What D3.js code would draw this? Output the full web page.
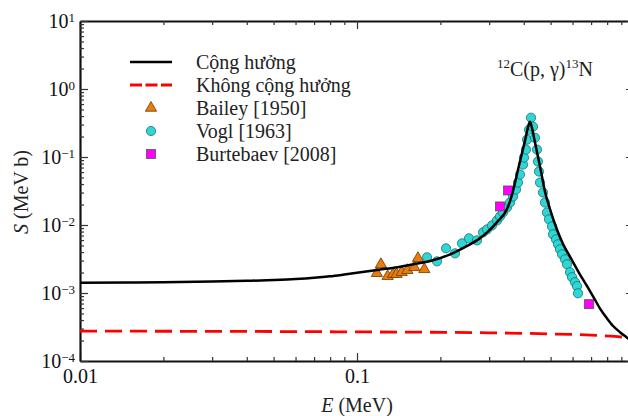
<!DOCTYPE html>
<html>
<head>
<meta charset="utf-8">
<script src="https://cdn.jsdelivr.net/npm/d3@7"></script>
<style>
body { margin: 0; background: #fff; }
svg { display: block; font-family: "Liberation Serif", "Times New Roman", serif; }
</style>
</head>
<body>
<div id="chart"></div>
<script>
// resonant S-factor (black line)
const resE = [0.01, 0.015, 0.02, 0.03, 0.04, 0.05, 0.06, 0.07, 0.08, 0.09, 0.1, 0.12, 0.14, 0.16, 0.188, 0.217,
    0.248, 0.275, 0.295, 0.322, 0.348, 0.362, 0.372, 0.385, 0.395, 0.405, 0.414, 0.421, 0.428, 0.437, 0.447,
    0.46, 0.477, 0.5, 0.527, 0.555, 0.588, 0.63, 0.677, 0.72, 0.754, 0.8, 0.839, 0.89, 0.944, 1.0];
const resS = [1.42e-3, 1.43e-3, 1.44e-3, 1.47e-3, 1.51e-3, 1.55e-3, 1.60e-3, 1.67e-3, 1.76e-3, 1.87e-3, 1.98e-3, 2.2e-3, 2.4e-3, 2.65e-3, 3.03e-3, 3.7e-3,
    4.85e-3, 6.2e-3, 7.8e-3, 0.0113, 0.0172, 0.027, 0.042, 0.077, 0.118, 0.18, 0.27, 0.33, 0.27, 0.18, 0.115,
    0.066, 0.031, 0.016, 8.6e-3, 5.2e-3, 3.4e-3, 2.05e-3, 1.26e-3, 8.2e-4, 5.9e-4, 4.2e-4, 3.3e-4, 2.65e-4, 2.2e-4, 1.85e-4];

// non-resonant part (red dashed)
const nonresE = [0.01, 0.1, 0.3, 0.5, 0.7, 0.85, 1.0];
const nonresS = [2.75e-4, 2.68e-4, 2.6e-4, 2.5e-4, 2.4e-4, 2.3e-4, 2.15e-4];

// Bailey [1950]
const baileyE = [0.118, 0.122, 0.129, 0.135, 0.139, 0.145, 0.152, 0.161, 0.166, 0.175];
const baileyS = [1.95e-3, 2.64e-3, 1.76e-3, 1.89e-3, 1.89e-3, 2.02e-3, 2.16e-3, 2.39e-3, 3.24e-3, 2.23e-3];

// Vogl [1963]
const voglE = [0.179, 0.1945, 0.2096, 0.2259, 0.2394, 0.2537, 0.2711, 0.2851, 0.2947, 0.3072, 0.3202, 0.3283,
    0.3366, 0.348, 0.3567, 0.3658, 0.375, 0.3813, 0.3877, 0.3975, 0.4008, 0.4075, 0.4109, 0.4178, 0.4248,
    0.4318, 0.439, 0.4464, 0.4501, 0.4539, 0.4577, 0.4693, 0.4771, 0.4851, 0.4933, 0.5058, 0.51, 0.5228,
    0.5316, 0.5406, 0.5497, 0.5636, 0.5731, 0.5875, 0.5974, 0.6124, 0.6226, 0.6278];
const voglS = [3.35e-3, 2.92e-3, 4.54e-3, 3.83e-3, 5.37e-3, 6.36e-3, 5.94e-3, 7.79e-3, 8.61e-3, 9.87e-3, 0.01167, 0.01337,
    0.01531, 0.0181, 0.0214, 0.0262, 0.0333, 0.0421, 0.0552, 0.0774, 0.098, 0.1285, 0.18, 0.252, 0.378,
    0.279, 0.192, 0.1285, 0.0857, 0.0611, 0.0421, 0.0301, 0.0214, 0.01531, 0.0121, 9.53e-3, 7.28e-3, 6.15e-3,
    5.2e-3, 4.39e-3, 3.71e-3, 3.13e-3, 2.64e-3, 2.02e-3, 1.71e-3, 1.44e-3, 1.26e-3, 9.9e-4];

// Burtebaev [2008]
const burtE = [0.328, 0.351, 0.688];
const burtS = [0.01875, 0.0322, 6.85e-4];

const xTickValues = [0.01, 0.1];
const xTickLabels = ["0.01", "0.1"];
const yTickExponents = [-4, -3, -2, -1, 0, 1];
const legendLabels = ["Cộng hưởng", "Không cộng hưởng", "Bailey [1950]", "Vogl [1963]", "Burtebaev [2008]"];

const margin = {top: 21, left: 80};
const width = 554;
const height = 340;
const serif = "Liberation Serif, Times New Roman, serif";

var root = d3.select("#chart").append("svg")
    .attr("width", 628)
    .attr("height", 416);

var svg = root.append("g")
    .attr("transform", "translate(" + margin.left + "," + margin.top + ")");

const x = d3.scaleLog().domain([0.01, 1]).range([0, width]);
const y = d3.scaleLog().domain([1e-4, 10]).range([height, 0]);

function isMajor(d) {
    const l = Math.log10(d);
    return Math.abs(l - Math.round(l)) < 1e-6;
}

const xAll = x.ticks().filter(d => d < 1 || isMajor(d));
const yAll = y.ticks();

// axes, ticks pointing inward on all four sides
function styleAxis(g, sign, vertical) {
    g.attr("font-family", serif).attr("font-size", 20);
    g.select(".domain").attr("stroke", "#111").attr("stroke-width", 2.2);
    g.selectAll(".tick line")
        .attr("stroke", "#333")
        .attr("stroke-width", 1.2)
        .attr(vertical ? "x2" : "y2", d => sign * (isMajor(d) ? 8 : 4));
    g.selectAll(".tick text").attr("fill", "#111");
}

var bottomAxis = svg.append("g")
    .attr("transform", "translate(0," + height + ")")
    .call(d3.axisBottom(x).tickValues(xAll).tickSizeInner(-8).tickSizeOuter(0).tickPadding(8)
        .tickFormat(d => {
            const i = xTickValues.findIndex(v => Math.abs(v - d) < 1e-9);
            return i >= 0 ? xTickLabels[i] : "";
        }));
styleAxis(bottomAxis, -1, false);

var topAxis = svg.append("g")
    .call(d3.axisTop(x).tickValues(xAll).tickSizeInner(-8).tickSizeOuter(0).tickFormat(""));
styleAxis(topAxis, 1, false);

var leftAxis = svg.append("g")
    .call(d3.axisLeft(y).tickValues(yAll).tickSizeInner(-8).tickSizeOuter(0).tickPadding(5).tickFormat(""));
styleAxis(leftAxis, 1, true);

leftAxis.selectAll(".tick text").each(function(d) {
    if (!isMajor(d)) return;
    const e = Math.round(Math.log10(d));
    if (yTickExponents.indexOf(e) < 0) return;
    const t = d3.select(this);
    t.append("tspan").text("10");
    t.append("tspan").attr("font-size", 13).attr("dy", "-0.45em").text(e < 0 ? "\u2212" + (-e) : e);
});

var rightAxis = svg.append("g")
    .attr("transform", "translate(" + width + ",0)")
    .call(d3.axisRight(y).tickValues(yAll).tickSizeInner(-8).tickSizeOuter(0).tickFormat(""));
styleAxis(rightAxis, -1, true);

svg.append("clipPath").attr("id", "plot-clip")
    .append("rect").attr("width", width).attr("height", height);

var plot = svg.append("g").attr("clip-path", "url(#plot-clip)");

// data points
plot.append("g")
    .selectAll("path")
    .data(baileyE.map((e, i) => ({e: e, s: baileyS[i]})))
    .enter()
    .append("path")
        .attr("transform", d => "translate(" + x(d.e) + "," + y(d.s) + ")")
        .attr("d", d3.symbol().type(d3.symbolTriangle).size(55))
        .attr("fill", "#e97c0c")
        .attr("stroke", "#6b3a00")
        .attr("stroke-width", 0.8);

plot.append("g")
    .selectAll("circle")
    .data(voglE.map((e, i) => ({e: e, s: voglS[i]})))
    .enter()
    .append("circle")
        .attr("cx", d => x(d.e))
        .attr("cy", d => y(d.s))
        .attr("r", 4.6)
        .attr("fill", "#2ed6d6")
        .attr("stroke", "#1a6e6e")
        .attr("stroke-width", 0.8);

plot.append("g")
    .selectAll("rect")
    .data(burtE.map((e, i) => ({e: e, s: burtS[i]})))
    .enter()
    .append("rect")
        .attr("x", d => x(d.e) - 4.5)
        .attr("y", d => y(d.s) - 4.5)
        .attr("width", 9)
        .attr("height", 9)
        .attr("fill", "#ff00ff")
        .attr("stroke", "#555")
        .attr("stroke-width", 0.8);

// curves
plot.append("path")
    .datum(nonresE.map((e, i) => ({e: e, s: nonresS[i]})))
    .attr("fill", "none")
    .attr("stroke", "#ff0000")
    .attr("stroke-width", 2.8)
    .attr("stroke-dasharray", "17,8")
    .attr("d", d3.line().x(d => x(d.e)).y(d => y(d.s)).curve(d3.curveMonotoneX));

plot.append("path")
    .datum(resE.map((e, i) => ({e: e, s: resS[i]})))
    .attr("fill", "none")
    .attr("stroke", "#000")
    .attr("stroke-width", 2.5)
    .attr("d", d3.line().x(d => x(d.e)).y(d => y(d.s)).curve(d3.curveMonotoneX));

// legend
const legendX = 130;
const legendY = [62, 85, 108, 131, 154];
var legend = root.append("g");

legend.append("line")
    .attr("x1", legendX).attr("x2", legendX + 42)
    .attr("y1", legendY[0]).attr("y2", legendY[0])
    .attr("stroke", "#000").attr("stroke-width", 2.5);
legend.append("line")
    .attr("x1", legendX).attr("x2", legendX + 42)
    .attr("y1", legendY[1]).attr("y2", legendY[1])
    .attr("stroke", "#ff0000").attr("stroke-width", 2.8).attr("stroke-dasharray", "12,3.5");
legend.append("path")
    .attr("transform", "translate(151," + legendY[2] + ")")
    .attr("d", d3.symbol().type(d3.symbolTriangle).size(55))
    .attr("fill", "#e97c0c").attr("stroke", "#6b3a00").attr("stroke-width", 0.8);
legend.append("circle")
    .attr("cx", 151).attr("cy", legendY[3]).attr("r", 4.6)
    .attr("fill", "#2ed6d6").attr("stroke", "#1a6e6e").attr("stroke-width", 0.8);
legend.append("rect")
    .attr("x", 146.5).attr("y", legendY[4] - 4.5).attr("width", 9).attr("height", 9)
    .attr("fill", "#ff00ff").attr("stroke", "#555").attr("stroke-width", 0.8);

legend.selectAll("text")
    .data(legendLabels)
    .enter()
    .append("text")
        .attr("x", 196)
        .attr("y", (d, i) => legendY[i] + 7)
        .attr("font-size", 20)
        .attr("fill", "#222")
        .text(d => d);

// reaction label
var reaction = root.append("text")
    .attr("x", 497).attr("y", 76)
    .attr("font-size", 20).attr("fill", "#222");
reaction.append("tspan").attr("font-size", 13).attr("dy", -8).text("12");
reaction.append("tspan").attr("dy", 8).text("C(p, \u03b3)");
reaction.append("tspan").attr("font-size", 13).attr("dy", -8).text("13");
reaction.append("tspan").attr("dy", 8).text("N");

// axis titles
var xTitle = root.append("text")
    .attr("x", 357).attr("y", 412)
    .attr("text-anchor", "middle")
    .attr("font-size", 20).attr("fill", "#222");
xTitle.append("tspan").attr("font-style", "italic").text("E");
xTitle.append("tspan").text(" (MeV)");

var yTitle = root.append("text")
    .attr("transform", "translate(28,192) rotate(-90)")
    .attr("text-anchor", "middle")
    .attr("font-size", 20).attr("fill", "#222");
yTitle.append("tspan").attr("font-style", "italic").text("S");
yTitle.append("tspan").text(" (MeV b)");
</script>
</body>
</html>
